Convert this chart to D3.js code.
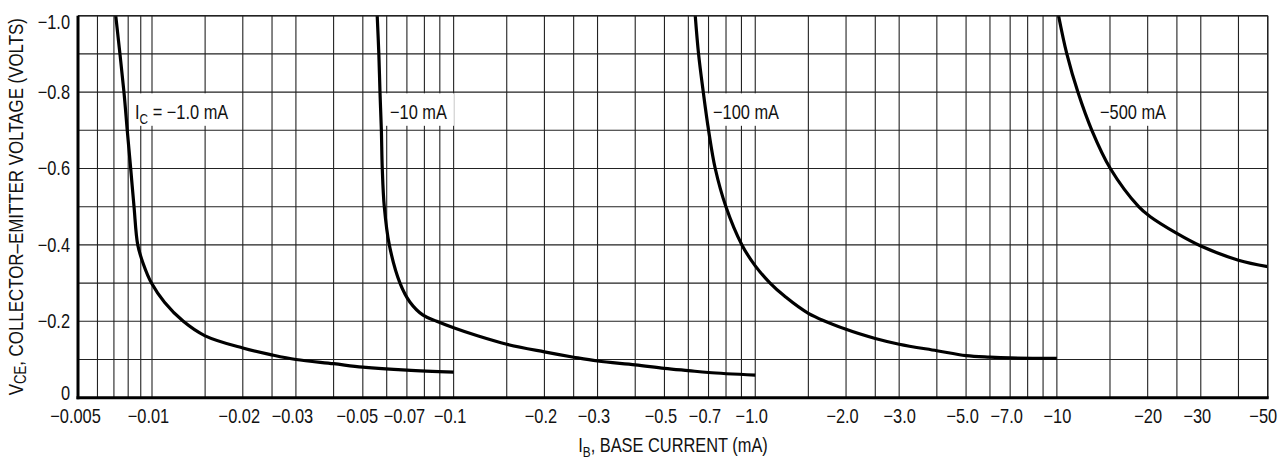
<!DOCTYPE html>
<html><head><meta charset="utf-8">
<script src="https://cdn.jsdelivr.net/npm/d3@7"></script>
<style>body{margin:0;background:#fff}svg{display:block}</style>
</head><body><svg id="c" width="1288" height="459"></svg>
<script>
// ---------- data ----------
const xTickValues = [-0.005,-0.01,-0.02,-0.03,-0.05,-0.07,-0.1,-0.2,-0.3,-0.5,-0.7,-1.0,-2.0,-3.0,-5.0,-7.0,-10,-20,-30,-50];
const xTickLabels = ["−0.005","−0.01","−0.02","−0.03","−0.05","−0.07","−0.1","−0.2","−0.3","−0.5","−0.7","−1.0","−2.0","−3.0","−5.0","−7.0","−10","−20","−30","−50"];
const yTickValues = [-1.0,-0.8,-0.6,-0.4,-0.2,0];
const yTickLabels = ["−1.0","−0.8","−0.6","−0.4","−0.2","0"];
const xGridValues = [-0.005,-0.006,-0.007,-0.008,-0.009,
  -0.01,-0.015,-0.02,-0.025,-0.03,-0.04,-0.05,-0.06,-0.07,-0.08,-0.09,
  -0.1,-0.15,-0.2,-0.25,-0.3,-0.4,-0.5,-0.6,-0.7,-0.8,-0.9,
  -1.0,-1.5,-2.0,-2.5,-3.0,-4.0,-5.0,-6.0,-7.0,-8.0,-9.0,
  -10,-15,-20,-25,-30,-40,-50];
const yGridValues = [-1.0,-0.9,-0.8,-0.7,-0.6,-0.5,-0.4,-0.3,-0.2,-0.1,0];
const seriesNames = ["IC = −1.0 mA","−10 mA","−100 mA","−500 mA"];
const xTitle = "IB, BASE CURRENT (mA)";
const yTitle = "VCE, COLLECTOR–EMITTER VOLTAGE (VOLTS)";

// IB (mA) and VCE (V) for each collector current
const ib1  = [-0.00712,-0.00769,-0.00793,-0.00819,-0.00845,-0.00875,-0.00922,-0.00995,-0.011,-0.0127,-0.015,-0.02,-0.025,-0.03,-0.04,-0.05,-0.07,-0.1];
const vce1 = [-1.0,-0.8,-0.7,-0.6,-0.5,-0.4,-0.35,-0.3,-0.25,-0.2,-0.162,-0.13,-0.112,-0.1,-0.089,-0.08,-0.072,-0.067];
const ib2  = [-0.0558,-0.0565,-0.057,-0.0576,-0.058,-0.0589,-0.0612,-0.0664,-0.0717,-0.0792,-0.0879,-0.1,-0.12,-0.15,-0.2,-0.25,-0.3,-0.4,-0.5,-0.6,-0.7,-1.0];
const vce2 = [-1.0,-0.9,-0.8,-0.7,-0.6,-0.5,-0.4,-0.3,-0.25,-0.216,-0.2,-0.183,-0.162,-0.14,-0.12,-0.106,-0.096,-0.086,-0.077,-0.071,-0.066,-0.059];
const ib3  = [-0.6325,-0.6487,-0.6725,-0.7003,-0.7368,-0.7995,-0.9034,-1.0,-1.12,-1.25,-1.5,-2.0,-2.5,-3.0,-4.0,-5.0,-6.0,-7.0,-10];
const vce3 = [-1.0,-0.9,-0.8,-0.7,-0.6,-0.5,-0.4,-0.345,-0.3,-0.266,-0.221,-0.179,-0.155,-0.14,-0.123,-0.11,-0.106,-0.104,-0.103];
const ib4  = [-10.13,-10.79,-11.74,-13.06,-15.04,-18.67,-20.3,-25,-30,-40,-50];
const vce4 = [-1.0,-0.9,-0.8,-0.7,-0.6,-0.5,-0.475,-0.43,-0.397,-0.36,-0.343];
const seriesIB = [ib1, ib2, ib3, ib4];
const seriesV  = [vce1, vce2, vce3, vce4];

// ---------- fonts ----------
function hasFont(name){
  const c = document.createElement('canvas').getContext('2d');
  const s = "COLLECTOR 0.005 mA";
  c.font = "40px monospace"; const a = c.measureText(s).width;
  c.font = `40px '${name}', monospace`; const b = c.measureText(s).width;
  return Math.abs(a-b) > 0.5;
}
const narrow = hasFont("Liberation Sans Narrow");
const FF = narrow ? "'Liberation Sans Narrow',sans-serif" : "'Liberation Sans',Arial,sans-serif";
const SQ = narrow ? 1 : 0.82;   // horizontal condensing when the narrow face is missing
const FS = 20, FSY = 20.6;
const sq = `scale(${SQ},1)`;

// ---------- layout ----------
const L = 78, R = 1267.7, T = 15.7, B = 397.7;
const svg = d3.select("#c");
const x = d3.scaleLog().domain([-0.005,-0.01,-50]).range([L,152,R]);
const y = d3.scaleLinear().domain([0,-1.0]).range([B,T]);

// grid
const g = svg.append("g");
g.selectAll("line.v").data(xGridValues).join("line")
  .attr("x1", d=>x(d)).attr("x2", d=>x(d)).attr("y1", T).attr("y2", B)
  .attr("stroke", "#222").attr("stroke-width", 1.1);
g.selectAll("line.h").data(yGridValues).join("line")
  .attr("x1", L).attr("x2", R).attr("y1", d=>y(d)).attr("y2", d=>y(d))
  .attr("stroke", "#222").attr("stroke-width", 1.1);

// label boxes + labels
const labelX = [135, 390, 713, 1100];
const labelBase = 119;
const boxG = svg.append("g"), labG = svg.append("g");
seriesNames.forEach((name, i) => {
  const t = labG.append("text").attr("transform", `translate(${labelX[i]},${labelBase}) ${sq}`)
    .attr("font-family", FF).attr("font-size", FS).attr("fill", "#111");
  if (name.startsWith("IC")) {
    t.append("tspan").text("I");
    t.append("tspan").text("C").attr("font-size", FS*0.72).attr("dy", 5);
    t.append("tspan").text(name.slice(2)).attr("dy", -5);
  } else t.text(name);
  const w = t.node().getComputedTextLength()*SQ;
  boxG.append("rect").attr("x", labelX[i]-5).attr("width", w+12)
    .attr("y", y(-0.8)+1.2).attr("height", 32.5).attr("fill", "#fff");
});

// curves
const line = d3.line().x(d=>x(d[0])).y(d=>y(d[1])).curve(d3.curveCatmullRom.alpha(0.5));
seriesIB.forEach((ib, i) => {
  const pts = ib.map((v, j) => [v, seriesV[i][j]]);
  svg.append("path").attr("d", line(pts)).attr("fill", "none")
    .attr("stroke", "#000").attr("stroke-width", 3.2);
});

// frame
svg.append("line").attr("x1", L).attr("x2", R).attr("y1", T).attr("y2", T).attr("stroke", "#222").attr("stroke-width", 1.4);
svg.append("line").attr("x1", R).attr("x2", R).attr("y1", T).attr("y2", B).attr("stroke", "#222").attr("stroke-width", 1.4);
svg.append("line").attr("x1", L).attr("x2", L).attr("y1", T).attr("y2", B+1.5).attr("stroke", "#000").attr("stroke-width", 3);
svg.append("line").attr("x1", L-1.5).attr("x2", R+1).attr("y1", B).attr("y2", B).attr("stroke", "#000").attr("stroke-width", 3);

// axes (labels only)
const xShift = {"−0.005":-3, "−0.05":-6, "−0.07":-3, "−10":0, "−20":0, "−3.0":0, "−50":-5};
const xa = svg.append("g").attr("transform", `translate(0,${B})`)
  .call(d3.axisBottom(x).tickValues(xTickValues).tickFormat((d,i)=>xTickLabels[i]).tickSize(0).tickPadding(11));
xa.select(".domain").remove();
xa.selectAll("text").attr("font-family", FF).attr("font-size", FS).attr("fill", "#111")
  .attr("x", (d,i)=> (xShift[xTickLabels[i]] ?? -4)/SQ)
  .attr("transform", sq);

const ya = svg.append("g").attr("transform", `translate(${L},0)`)
  .call(d3.axisLeft(y).tickValues(yTickValues).tickFormat((d,i)=>yTickLabels[i]).tickSize(0).tickPadding(8));
ya.select(".domain").remove();
ya.selectAll("text").attr("font-family", FF).attr("font-size", FS).attr("fill", "#111")
  .attr("x", -8/SQ)
  .attr("transform", d => (d === -1.0 ? "translate(0,6) " : (d === 0 ? "translate(0,-5) " : "")) + sq);

// axis titles
const xt = svg.append("text").attr("transform", `translate(673,452) ${sq}`).attr("text-anchor", "middle")
  .attr("font-family", FF).attr("font-size", FS).attr("fill", "#111");
xt.append("tspan").text(xTitle.slice(0,1));
xt.append("tspan").text(xTitle.slice(1,2)).attr("font-size", FS*0.72).attr("dy", 5);
xt.append("tspan").text(xTitle.slice(2)).attr("dy", -5);

const yt = svg.append("text").attr("transform", `translate(23,${(T+B)/2}) rotate(-90) ${sq}`)
  .attr("text-anchor", "middle").attr("font-family", FF).attr("font-size", FSY).attr("fill", "#111");
yt.append("tspan").text(yTitle.slice(0,1));
yt.append("tspan").text(yTitle.slice(1,3)).attr("font-size", FSY*0.78).attr("dy", 3);
yt.append("tspan").text(yTitle.slice(3)).attr("dy", -3);
</script></body></html>
